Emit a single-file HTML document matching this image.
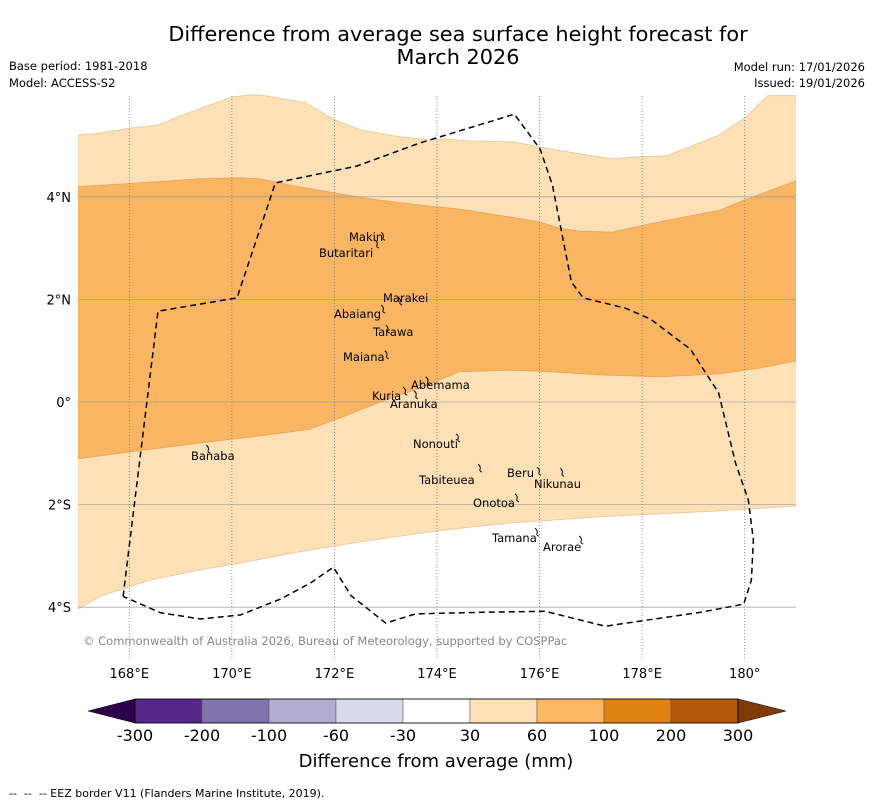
<!DOCTYPE html>
<html><head><meta charset="utf-8"><style>
body{margin:0;background:#fff;font-family:"DejaVu Sans","Liberation Sans",sans-serif;}
svg{display:block}
</style></head><body>
<svg id="chart" width="873" height="804" viewBox="0 0 873 804" xmlns="http://www.w3.org/2000/svg" font-family="DejaVu Sans, Liberation Sans, sans-serif">
<text x="458" y="41" font-size="20.8" text-anchor="middle">Difference from average sea surface height forecast for</text>
<text x="458" y="64" font-size="20.8" text-anchor="middle">March 2026</text>
<text x="9" y="70" font-size="11.5">Base period: 1981-2018</text>
<text x="9" y="87" font-size="11.5">Model: ACCESS-S2</text>
<text x="865" y="71" font-size="11.5" text-anchor="end">Model run: 17/01/2026</text>
<text x="865" y="87" font-size="11.5" text-anchor="end">Issued: 19/01/2026</text>
<g id="map"></g>
<g id="cbar"></g>
<text x="436" y="767" font-size="18" text-anchor="middle">Difference from average (mm)</text>
<text x="9" y="797" font-size="11" style="white-space:pre">--  --  -- EEZ border V11 (Flanders Marine Institute, 2019).</text>
</svg>
<script>
const lonTicks=[168,170,172,174,176,178,180];
const lonLabels=["168°E","170°E","172°E","174°E","176°E","178°E","180°"];
const latTicks=[4,2,0,-2,-4];
const latLabels=["4°N","2°N","0°","2°S","4°S"];
const cbarValues=[-300,-200,-100,-60,-30,30,60,100,200,300];
const cbarColors=["#542788","#8073ac","#b2abd2","#d8daeb","#ffffff","#fee0b6","#fdb863","#e08214","#b35806"];
const cbarExtLow="#2d004b", cbarExtHigh="#7f3b08";
const topLightEdge=[[167,5.2],[167.43,5.24],[168.01,5.34],[168.56,5.4],[169.05,5.6],[169.57,5.79],[170.02,5.95],[170.41,5.99],[170.64,5.97],[171.42,5.84],[172.01,5.5],[172.53,5.3],[173.27,5.17],[173.86,5.11],[174.15,5.13],[174.64,5.09],[175.51,5.07],[176.0,4.97],[176.59,4.87],[177.41,4.74],[177.95,4.78],[178.48,4.8],[179.51,5.21],[180.0,5.54],[180.45,5.97],[181,5.97]];
const topOrangeEdge=[[167,4.2],[168.01,4.26],[169.38,4.35],[170.16,4.37],[170.55,4.35],[171.13,4.23],[171.91,4.09],[172.69,3.96],[173.66,3.84],[174.44,3.76],[175.51,3.59],[176.0,3.51],[176.39,3.39],[176.78,3.33],[177.41,3.31],[177.95,3.43],[178.44,3.53],[179.51,3.74],[180.0,3.94],[181,4.31]];
const botOrangeEdge=[[167,-1.11],[168.01,-0.97],[169.38,-0.8],[170.55,-0.66],[171.52,-0.53],[172.11,-0.31],[172.89,0.0],[173.66,0.27],[174.44,0.59],[175.42,0.62],[176.0,0.6],[177.17,0.53],[178.34,0.49],[179.51,0.55],[180.29,0.66],[181,0.8]];
const botLightEdge=[[167,-4.04],[167.43,-3.79],[168.37,-3.48],[169.38,-3.27],[170.06,-3.16],[171.32,-2.92],[172.49,-2.73],[173.86,-2.53],[174.64,-2.44],[175.42,-2.36],[176.0,-2.32],[177.17,-2.24],[178.34,-2.18],[179.51,-2.12],[181,-2.03]];
const eez=[[167.88,-3.79],[168.56,1.77],[170.1,2.03],[170.85,4.27],[172.44,4.6],[173.67,5.05],[175.51,5.61],[176.01,4.93],[176.25,4.23],[176.62,2.34],[176.85,2.03],[177.67,1.83],[178.16,1.62],[178.94,1.03],[179.49,0.18],[179.82,-1.19],[180.07,-1.91],[180.17,-2.69],[180.13,-3.47],[179.98,-3.94],[179.14,-4.1],[177.28,-4.37],[176.11,-4.08],[174.85,-4.1],[173.58,-4.13],[173.0,-4.31],[172.32,-3.77],[171.98,-3.22],[171.53,-3.53],[170.95,-3.84],[170.17,-4.15],[169.39,-4.23],[168.61,-4.11],[167.88,-3.79]];
const islands=[["Makin",172.95,3.25,349,241],["Butaritari",172.83,3.1,319,257],["Marakei",173.28,1.99,383,302],["Abaiang",172.95,1.83,334,318],["Tarawa",173.04,1.44,373,336],["Maiana",173.02,0.94,343,361],["Abemama",173.82,0.43,411,389],["Kuria",173.38,0.23,372,400],["Aranuka",173.59,0.16,390,408],["Nonouti",174.41,-0.68,413,448],["Banaba",169.54,-0.90,191,460],["Tabiteuea",174.84,-1.27,419,484],["Beru",175.99,-1.33,507,477],["Nikunau",176.44,-1.35,534,488],["Onotoa",175.56,-1.85,473,507],["Tamana",175.95,-2.52,492,542],["Arorae",176.81,-2.67,543,551]];
const NS="http://www.w3.org/2000/svg";
const X0=78,X1=796,Y0=96,Y1=659,LON0=167,LON1=181;
const xS=lon=>X0+(lon-LON0)*(X1-X0)/(LON1-LON0);
const yS=lat=>402-lat*51.3;
function mk(t,a,p){const e=document.createElementNS(NS,t);for(const k in a)e.setAttribute(k,a[k]);p.appendChild(e);return e;}
const map=document.getElementById('map');
const pts=arr=>arr.map(p=>xS(p[0]).toFixed(1)+','+yS(p[1]).toFixed(1));
let light=mk('polygon',{points:[...pts(topLightEdge),...pts(botLightEdge).reverse()].join(' '),fill:'#fde0b6'},map);


let light2=mk('polygon',{points:[xS(180.45)+','+Y0,X1+','+Y0,X1+','+yS(5.97),xS(180.45)+','+yS(5.97)].join(' '),fill:'#fde0b6'},map);


let org=mk('polygon',{points:[...pts(topOrangeEdge),...pts(botOrangeEdge).reverse()].join(' '),fill:'#f9b562'},map);


mk('polyline',{points:pts(topLightEdge).join(' '),fill:'none',stroke:'#e8c79a','stroke-width':0.8},map);
mk('polyline',{points:pts(topOrangeEdge).join(' '),fill:'none',stroke:'#e6a55a','stroke-width':0.8},map);
mk('polyline',{points:pts(botOrangeEdge).join(' '),fill:'none',stroke:'#e6a55a','stroke-width':0.8},map);
mk('polyline',{points:pts(botLightEdge).join(' '),fill:'none',stroke:'#e8c79a','stroke-width':0.8},map);
lonTicks.forEach((v,i)=>{
  let g=mk('line',{x1:xS(v),x2:xS(v),y1:Y0,y2:Y1,stroke:'#777','stroke-width':0.8,'stroke-dasharray':'1,2'},map);
  
  
  let t=mk('text',{x:xS(v),y:678,'font-size':13,'text-anchor':'middle'},map);t.textContent=lonLabels[i];
  
  
});
latTicks.forEach((v,i)=>{
  let g=mk('line',{x1:X0,x2:X1,y1:yS(v),y2:yS(v),stroke:'#999','stroke-width':0.8,'stroke-opacity':0.8},map);
  
  
  let t=mk('text',{x:71,y:yS(v)+5,'font-size':13,'text-anchor':'end'},map);t.textContent=latLabels[i];
  
  
});
let ez=mk('polyline',{points:pts(eez).join(' '),fill:'none',stroke:'#000','stroke-width':1.5,'stroke-dasharray':'6,4'},map);


islands.forEach(d=>{
  const x=xS(d[1]),y=yS(d[2]);
  let s=mk('path',{d:`M${x-2},${y-3} q3,2 2,5 q-1,2 2,3`,fill:'none',stroke:'#000','stroke-width':1},map);
  
  
  let t=mk('text',{x:d[3],y:d[4],'font-size':11.5},map);t.textContent=d[0];
  
  
});
let cp=mk('text',{x:83,y:645,'font-size':11.5,fill:'#888'},map);cp.textContent='© Commonwealth of Australia 2026, Bureau of Meteorology, supported by COSPPac';


const cb=document.getElementById('cbar');
const CX0=135,CX1=738,CY0=699,CY1=723;
const cw=(CX1-CX0)/cbarColors.length;
cbarColors.forEach((c,i)=>{
  let r=mk('rect',{x:CX0+i*cw,y:CY0,width:cw,height:CY1-CY0,fill:c,stroke:'#555','stroke-width':0.5},cb);
  
  
});
let tl=mk('polygon',{points:`${CX0},${CY0} ${CX0},${CY1} 88,${(CY0+CY1)/2}`,fill:cbarExtLow,stroke:'#000','stroke-width':0.5},cb);


let th=mk('polygon',{points:`${CX1},${CY0} ${CX1},${CY1} 786,${(CY0+CY1)/2}`,fill:cbarExtHigh,stroke:'#000','stroke-width':0.5},cb);


mk('rect',{x:CX0,y:CY0,width:CX1-CX0,height:CY1-CY0,fill:'none',stroke:'#000','stroke-width':0.8},cb);
cbarValues.forEach((v,i)=>{
  let t=mk('text',{x:CX0+i*cw,y:741,'font-size':16,'text-anchor':'middle'},cb);t.textContent=v;
  
  
});
</script>
</body></html>
